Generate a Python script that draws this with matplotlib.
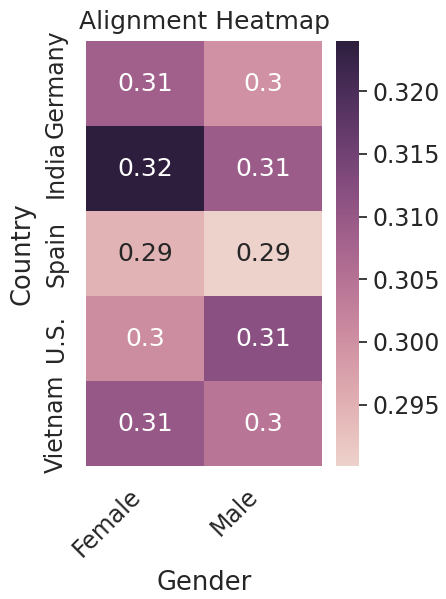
import numpy as np
import pandas as pd
import seaborn as sns
import matplotlib.pyplot as plt

countries = ['Germany', 'India', 'Spain', 'U.S.', 'Vietnam']
genders = ['Female', 'Male']
female = [0.3085, 0.3240, 0.2948, 0.3005, 0.3100]
male = [0.2998, 0.3092, 0.2901, 0.3118, 0.3046]

df = pd.DataFrame({'Female': female, 'Male': male}, index=countries)
df.index.name = 'Country'
df.columns.name = 'Gender'

sns.set_theme(style='white', font_scale=1.5)

fig = plt.figure(figsize=(4.46, 5.99), dpi=100)
ax = fig.add_axes([0.193, 0.222, 0.529, 0.7095])
cax = fig.add_axes([0.7534, 0.222, 0.0516, 0.7095])
sns.heatmap(df, annot=True, cmap=sns.cubehelix_palette(as_cmap=True), ax=ax, cbar_ax=cax)
ax.set_title('Alignment Heatmap', pad=9)
ax.tick_params(axis='both', pad=7, labelsize=17)
cax.tick_params(labelsize=17)
ax.set_xlabel('Gender', fontsize=18.5, labelpad=6)
ax.set_ylabel('Country', fontsize=18.5, labelpad=6)
plt.setp(ax.get_xticklabels(), rotation=45, ha='right')
plt.setp(ax.get_yticklabels(), rotation=90, va='center')
fig.savefig('out.png')
